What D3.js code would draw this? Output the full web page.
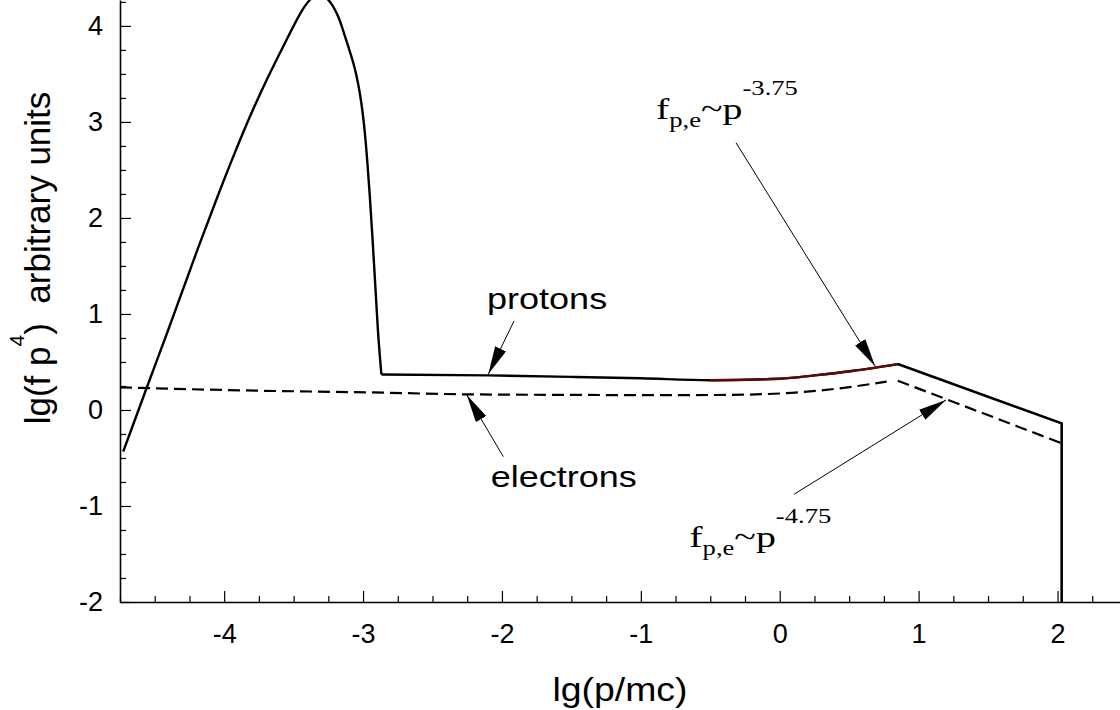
<!DOCTYPE html>
<html>
<head>
<meta charset="utf-8">
<script src="https://cdn.jsdelivr.net/npm/d3@7"></script>
<style>
  body { margin: 0; background: #fff; }
  #spectrum { width: 1120px; height: 710px; overflow: hidden; }
</style>
</head>
<body>
<div id="spectrum"></div>
<script>
/*
 * Data section start (x = lg(p/mc), y = lg(f p^4))
 */
// thermal (Maxwellian) bump of the protons, ends at the injection corner
var thermalLgP = [-4.727, -4.559, -4.403, -4.187, -4.043, -3.923, -3.804, -3.683, -3.563, -3.444, -3.39, -3.33, -3.28, -3.228, -3.18, -3.132, -3.06, -3.02, -2.988, -2.952, -2.921, -2.892, -2.868]
  , thermalLgF = [-0.434, 0.226, 0.833, 1.69, 2.24, 2.68, 3.09, 3.47, 3.82, 4.15, 4.26, 4.33, 4.31, 4.23, 4.10, 3.90, 3.56, 3.27, 2.90, 2.24, 1.52, 0.81, 0.37]

// accelerated protons, power law part
var protonLgP = [-2.868, -2.1, -1.5, -1.0, -0.5, 0.0, 0.25, 0.52, 0.85]
  , protonLgF = [0.37, 0.36, 0.345, 0.33, 0.31, 0.325, 0.36, 0.406, 0.478]

// steeper part and the cut off
var cutoffLgP = [0.85, 2.03, 2.03]
  , cutoffLgF = [0.478, -0.139, -2.0]

// electrons (dashed), two pieces
var electronLgP = [-4.75, -4.0, -2.85, -2.26, -1.5, -1.0, -0.47, 0.02, 0.40, 0.77]
  , electronLgF = [0.236, 0.208, 0.18, 0.163, 0.157, 0.155, 0.156, 0.173, 0.22, 0.295]
  , electronTailLgP = [0.85, 2.03]
  , electronTailLgF = [0.305, -0.347]

// part of the proton curve marked as f ~ p^-3.75
var fitFrom = -0.5
  , fitTo = 0.85

var xTicks = [-4, -3, -2, -1, 0, 1, 2]
  , yTicks = [-2, -1, 0, 1, 2, 3, 4]

// annotations
var labelNames = ['protons', 'electrons']
  , labelLgP = [-2.107, -2.08]
  , labelLgF = [1.049, -0.799]

var arrowFromLgP = [-1.913, -1.99, -0.315, 0.103]
  , arrowFromLgF = [0.927, -0.486, 2.784, -0.878]
  , arrowToLgP = [-2.098, -2.253, 0.686, 1.197]
  , arrowToLgF = [0.375, 0.156, 0.458, 0.104]

var slopeIndex = ['-3.75', '-4.75']
  , slopeLgP = [-0.891, -0.651]
  , slopeLgF = [3.028, -1.424]
/*
 * Data section end
 */

var app_width = 1120
  , app_height = 710
  , appSVG = d3.select('#spectrum')
    .append('svg')
    .attr('width', app_width)
    .attr('height', app_height)
    .style('font-family', '"Liberation Sans", Arial, sans-serif')

var x = d3.scaleLinear().domain([-4.75, 2.45]).range([120, 1120])
  , y = d3.scaleLinear().domain([-2, 4.27]).range([602, 0])

appSVG.append('defs').append('marker')
    .attr('id', 'head')
    .attr('markerUnits', 'userSpaceOnUse')
    .attr('markerWidth', 28)
    .attr('markerHeight', 12)
    .attr('refX', 28)
    .attr('refY', 6)
    .attr('orient', 'auto')
  .append('path')
    .attr('d', 'M0,0 L28,6 L0,12 Z')
    .style('fill', '#000')

// minor ticks every 0.25
var minorX = d3.range(-4.75, 2.45, 0.25).filter(function (d) { return Math.abs(d - Math.round(d)) > 0.01 })
  , minorY = d3.range(-2, 4.27, 0.25).filter(function (d) { return Math.abs(d - Math.round(d)) > 0.01 })

appSVG.append('g')
    .attr('transform', 'translate(0,602)')
    .call(d3.axisBottom(x).tickValues(minorX).tickSize(-6).tickSizeOuter(0).tickFormat(''))
    .select('.domain').remove()

appSVG.append('g')
    .attr('transform', 'translate(120,0)')
    .call(d3.axisLeft(y).tickValues(minorY).tickSize(-6).tickSizeOuter(0).tickFormat(''))
    .select('.domain').remove()

// plain hyphen minus, no decimals
var plain = function (d) { return String(d) }

appSVG.append('g')
    .attr('transform', 'translate(0,602)')
    .call(d3.axisBottom(x).tickValues(xTicks).tickSize(-11).tickSizeOuter(0).tickPadding(22).tickFormat(plain))

appSVG.append('g')
    .attr('transform', 'translate(120,0)')
    .call(d3.axisLeft(y).tickValues(yTicks).tickSize(-11).tickSizeOuter(0).tickPadding(17).tickFormat(plain))

appSVG.selectAll('.tick line').style('stroke', '#000').style('stroke-width', 1.2)
appSVG.selectAll('.domain').style('stroke', '#000').style('stroke-width', 1.6)
appSVG.selectAll('.tick text')
    .style('font-family', '"Liberation Sans", Arial, sans-serif')
    .style('font-size', '27px')
    .style('fill', '#000')

// axis titles
appSVG.append('text')
    .attr('transform', 'translate(' + ((x.range()[0] + x.range()[1]) / 2) + ',701) scale(1.1,1)')
    .attr('text-anchor', 'middle')
    .style('font-size', '34px')
    .text('lg(p/mc)')

var yTitle = appSVG.append('text')
    .attr('transform', 'translate(50,258) rotate(-90)')
    .attr('text-anchor', 'middle')
    .style('font-size', '35px')
yTitle.append('tspan').text('lg(f p')
yTitle.append('tspan').attr('dy', -26).style('font-size', '21px').text('4')
yTitle.append('tspan').attr('dy', 26).text(')\u00a0\u00a0arbitrary units')

// curves
function lineOf(curve) {
  return d3.line()
    .x(function (d) { return x(d[0]) })
    .y(function (d) { return y(d[1]) })
    .curve(curve)
}

var thermal = d3.zip(thermalLgP, thermalLgF)
  , proton = d3.zip(protonLgP, protonLgF)
  , cutoff = d3.zip(cutoffLgP, cutoffLgF)
  , fit = proton.filter(function (d) { return d[0] >= fitFrom && d[0] <= fitTo })

appSVG.append('path')
    .attr('d', lineOf(d3.curveCatmullRom.alpha(0.5))(thermal))
    .style('fill', 'none').style('stroke', '#000').style('stroke-width', 2.4)

appSVG.append('path')
    .attr('d', lineOf(d3.curveMonotoneX)(proton))
    .style('fill', 'none').style('stroke', '#000').style('stroke-width', 2.4)

appSVG.append('path')
    .attr('d', lineOf(d3.curveMonotoneX)(fit))
    .style('fill', 'none').style('stroke', '#5e0808').style('stroke-width', 2.4)

appSVG.append('path')
    .attr('d', lineOf(d3.curveLinear)(cutoff))
    .style('fill', 'none').style('stroke', '#000').style('stroke-width', 2.6)

appSVG.selectAll('path.electron')
    .data([d3.zip(electronLgP, electronLgF), d3.zip(electronTailLgP, electronTailLgF)])
  .enter().append('path')
    .attr('class', 'electron')
    .attr('d', function (d) { return lineOf(d3.curveMonotoneX)(d) })
    .style('fill', 'none')
    .style('stroke', '#000')
    .style('stroke-width', 2.2)
    .style('stroke-dasharray', '12,6')

// arrows
appSVG.selectAll('line.arrow')
    .data(arrowFromLgP)
  .enter().append('line')
    .attr('class', 'arrow')
    .attr('x1', function (d, i) { return x(arrowFromLgP[i]) })
    .attr('y1', function (d, i) { return y(arrowFromLgF[i]) })
    .attr('x2', function (d, i) { return x(arrowToLgP[i]) })
    .attr('y2', function (d, i) { return y(arrowToLgF[i]) })
    .style('stroke', '#000')
    .style('stroke-width', 1)
    .attr('marker-end', 'url(#head)')

// curve names
appSVG.selectAll('text.name')
    .data(labelNames)
  .enter().append('text')
    .attr('class', 'name')
    .attr('transform', function (d, i) {
      return 'translate(' + x(labelLgP[i]) + ',' + y(labelLgF[i]) + ') scale(1.2,1)'
    })
    .style('font-size', '30px')
    .text(function (d) { return d })

// power law labels  f_{p,e} ~ p^{index}
var slopes = appSVG.selectAll('text.slope')
    .data(slopeIndex)
  .enter().append('text')
    .attr('class', 'slope')
    .attr('transform', function (d, i) {
      return 'translate(' + x(slopeLgP[i]) + ',' + y(slopeLgF[i]) + ') scale(1.33,1)'
    })
    .style('font-family', '"Liberation Serif", "Times New Roman", serif')
    .style('font-size', '30px')

slopes.append('tspan').text('f')
slopes.append('tspan').attr('dy', 8).style('font-size', '20px').text('p,e')
slopes.append('tspan').attr('dy', -8).text('~p')
slopes.append('tspan').attr('dy', -24).style('font-size', '20px').text(function (d) { return d })
</script>
</body>
</html>
